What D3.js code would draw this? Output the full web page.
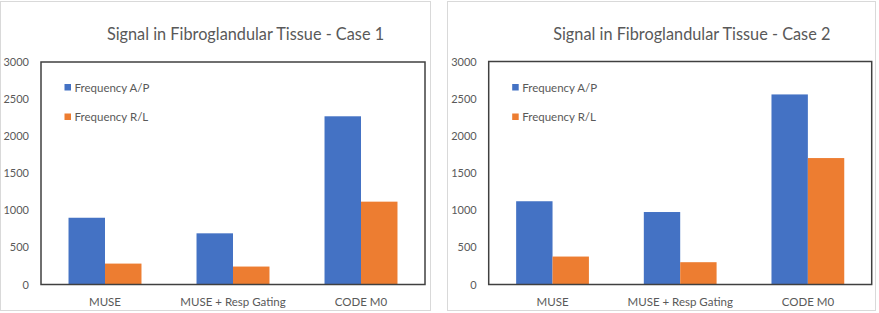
<!DOCTYPE html>
<html>
<head>
<meta charset="utf-8">
<script src="https://cdn.jsdelivr.net/npm/d3@7"></script>
<style>
  body { margin: 0; background: #fff; }
  text { font-family: Lato, "Open Sans", sans-serif; }
</style>
</head>
<body>
<script>
        // data
            const categories = ["MUSE", "MUSE + Resp Gating", "CODE M0"];
            const seriesNames = ["Frequency A/P", "Frequency R/L"];
            const yTicks = [0, 500, 1000, 1500, 2000, 2500, 3000];
            const case1AP = [900, 690, 2268];
            const case1RL = [282, 242, 1117];
            const case2AP = [1120, 975, 2557];
            const case2RL = [376, 300, 1701];
            const titles = ["Signal in Fibroglandular Tissue - Case 1", "Signal in Fibroglandular Tissue - Case 2"];

        // layout
            const w = 879, h = 313;
            const colors = ["#4472C4", "#ED7D31"];

            const panels = [
                {frame: [0.5, 1.5, 430.5, 310.5], plot: [41, 62, 425, 284.5], titleX: 245.5, title: titles[0], series: [case1AP, case1RL]},
                {frame: [447.5, 1.5, 875.5, 310.5], plot: [488.7, 61.5, 871.7, 284.5], titleX: 691.8, title: titles[1], series: [case2AP, case2RL]}
            ];

            const svg = d3.select("body")
                        .append("svg")
                        .attr("width", w)
                        .attr("height", h);

            svg.append("rect").attr("width", w).attr("height", h).attr("fill", "#fff");

            panels.forEach(p => {
                const [fx0, fy0, fx1, fy1] = p.frame;
                const [x0, y0, x1, y1] = p.plot;

                // outer chart frame
                svg.append("rect")
                    .attr("x", fx0).attr("y", fy0)
                    .attr("width", fx1 - fx0).attr("height", fy1 - fy0)
                    .attr("fill", "#fff")
                    .attr("stroke", "#d9d9d9")
                    .attr("stroke-width", 1);

                const xScale = d3.scaleBand()
                                 .domain(categories)
                                 .range([x0, x1])
                                 .paddingInner(0.43)
                                 .paddingOuter(0.215);

                const xInner = d3.scaleBand()
                                 .domain(seriesNames)
                                 .range([0, xScale.bandwidth()]);

                const yScale = d3.scaleLinear()
                                 .domain([0, 3000])
                                 .range([y1, y0]);

                // bars
                seriesNames.forEach((s, si) => {
                    svg.append("g")
                        .selectAll("rect")
                        .data(p.series[si])
                        .enter()
                        .append("rect")
                        .attr("x", (d, i) => xScale(categories[i]) + xInner(s))
                        .attr("y", d => yScale(d))
                        .attr("width", xInner.bandwidth())
                        .attr("height", d => yScale(0) - yScale(d))
                        .attr("fill", colors[si]);
                });

                // plot box
                svg.append("rect")
                    .attr("x", x0).attr("y", y0)
                    .attr("width", x1 - x0).attr("height", y1 - y0)
                    .attr("fill", "none")
                    .attr("stroke", "#404040")
                    .attr("stroke-width", 1.5);

                // axes
                const leftAxis = d3.axisLeft(yScale)
                                   .tickValues(yTicks)
                                   .tickSize(0)
                                   .tickPadding(12)
                                   .tickFormat(d3.format("d"));

                const bottomAxis = d3.axisBottom(xScale)
                                     .tickSize(0)
                                     .tickPadding(13);

                const ga = svg.append("g")
                    .attr("transform", "translate(" + x0 + ",0)")
                    .call(leftAxis);
                ga.select(".domain").remove();
                ga.selectAll("text").attr("font-size", 11).attr("fill", "#595959").style("font-family", "Lato");

                const gb = svg.append("g")
                    .attr("transform", "translate(0," + y1 + ")")
                    .call(bottomAxis);
                gb.select(".domain").remove();
                gb.selectAll("text").attr("font-size", 11.5).attr("fill", "#595959").style("font-family", "Lato");

                // title
                svg.append("text")
                    .attr("x", p.titleX)
                    .attr("y", 39.5)
                    .attr("text-anchor", "middle")
                    .attr("font-size", 16.3)
                    .attr("fill", "#595959")
                    .text(p.title);

                // legend
                const lg = svg.append("g")
                    .attr("transform", "translate(" + (x0 + 23.5) + ",84)");
                seriesNames.forEach((s, si) => {
                    lg.append("rect")
                        .attr("x", 0).attr("y", si * 29.5)
                        .attr("width", 6.5).attr("height", 6.5)
                        .attr("fill", colors[si]);
                    lg.append("text")
                        .attr("x", 10).attr("y", si * 29.5 + 7.8)
                        .attr("font-size", 11.5)
                        .attr("fill", "#595959")
                        .text(s);
                });
            });
</script>
</body>
</html>
